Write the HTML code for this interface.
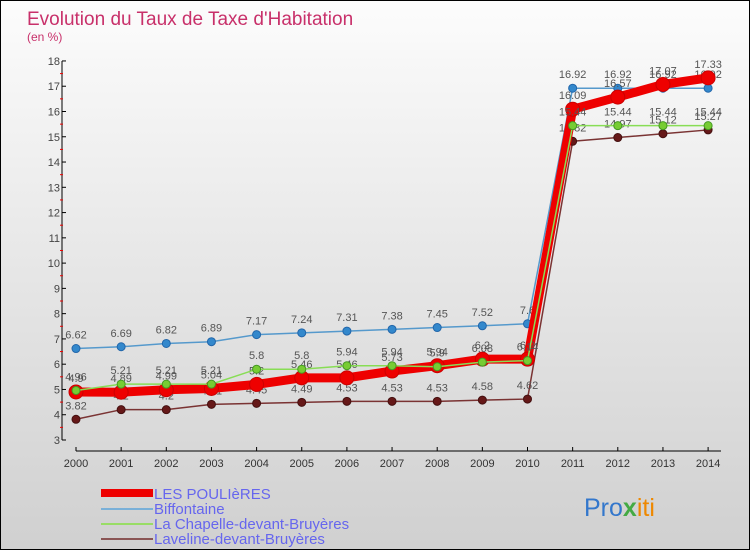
<!DOCTYPE html>
<html><head><meta charset="utf-8"><style>
body{margin:0;}
#wrap{width:748px;height:548px;border:1px solid #000;background:linear-gradient(#fcfcfc,#d0d0d0);position:relative;overflow:hidden;font-family:"Liberation Sans",sans-serif;}
svg text{font-family:"Liberation Sans",sans-serif;}
</style></head><body>
<div id="wrap">
<svg id="svg" width="748" height="548" xmlns="http://www.w3.org/2000/svg">
<text x="26" y="24" font-size="19" fill="#c8306a">Evolution du Taux de Taxe d'Habitation</text>
<text x="26" y="40" font-size="12" fill="#c8306a">(en %)</text>
<g id="axes"></g><g id="series"></g>
<g>
<rect x="100" y="488" width="52" height="8" fill="#e00"/>
<text x="153" y="498" font-size="15" fill="#6666ee">LES POULIèRES</text>
<line x1="100" x2="152" y1="508" y2="508" stroke="#7ab0d8" stroke-width="2"/>
<text x="153" y="513" font-size="15" fill="#6666ee">Biffontaine</text>
<line x1="100" x2="152" y1="523" y2="523" stroke="#99dd66" stroke-width="2"/>
<text x="153" y="528" font-size="15" fill="#6666ee">La Chapelle-devant-Bruyères</text>
<line x1="100" x2="152" y1="538" y2="538" stroke="#8a5555" stroke-width="2"/>
<text x="153" y="543" font-size="15" fill="#6666ee">Laveline-devant-Bruyères</text>
</g>
<text x="583" y="515" font-size="25"><tspan fill="#3377cc">Pro</tspan><tspan fill="#44aa44" font-weight="bold">x</tspan><tspan fill="#ee8800">iti</tspan></text>
</svg></div>
<script>
const years=[2000,2001,2002,2003,2004,2005,2006,2007,2008,2009,2010,2011,2012,2013,2014];
const yTicks=[3,4,5,6,7,8,9,10,11,12,13,14,15,16,17,18];
const poulieres=[4.9,4.89,4.99,5.04,5.2,5.46,5.46,5.73,5.94,6.2,6.2,16.09,16.57,17.07,17.33];
const biffontaine=[6.62,6.69,6.82,6.89,7.17,7.24,7.31,7.38,7.45,7.52,7.6,16.92,16.92,16.92,16.92];
const chapelle=[4.96,5.21,5.21,5.21,5.8,5.8,5.94,5.94,5.9,6.08,6.14,15.44,15.44,15.44,15.44];
const laveline=[3.82,4.2,4.2,4.41,4.45,4.49,4.53,4.53,4.53,4.58,4.62,14.82,14.97,15.12,15.27];
const NS="http://www.w3.org/2000/svg";
const X=i=>75+i*45.15, Y=v=>439-(v-3)*25.27;
function mk(t,a,p){const e=document.createElementNS(NS,t);for(const k in a)e.setAttribute(k,a[k]);p.appendChild(e);return e;}
const ax=document.getElementById('axes'),sg=document.getElementById('series');
const yl=mk('line',{x1:61,x2:61,y1:60,y2:439,stroke:'#000'},ax);


const xl=mk('line',{x1:75,x2:720,y1:450,y2:450,stroke:'#000'},ax);


yTicks.forEach(v=>{mk('line',{x1:61,x2:65,y1:Y(v),y2:Y(v),stroke:'#000'},ax);
 if(v<18)mk('line',{x1:59,x2:62,y1:Y(v+0.5),y2:Y(v+0.5),stroke:'#e00'},ax);
 const t=mk('text',{x:59,y:Y(v)+4,'font-size':11,fill:'#444','text-anchor':'end'},ax);t.textContent=v;
 
 });
years.forEach((y,i)=>{mk('line',{x1:X(i),x2:X(i),y1:446,y2:450,stroke:'#000'},ax);
 const t=mk('text',{x:X(i),y:466,'font-size':11,fill:'#333','text-anchor':'middle'},ax);t.textContent=y;
 
 });
function series(data,name,col,w,dot,dcol,r){
 const g=mk('g',{},sg);
 
 
 mk('polyline',{points:data.map((v,i)=>X(i)+','+Y(v)).join(' '),fill:'none',stroke:col,'stroke-width':w,'stroke-linejoin':'round'},g);
 data.forEach((v,i)=>{const c=mk('circle',{cx:X(i),cy:Y(v),r:r,fill:dot,stroke:dcol,'stroke-width':1},g);
  
  
  const t=mk('text',{x:X(i),y:Y(v)-10,'font-size':11,fill:'#555','text-anchor':'middle'},g);t.textContent=v;});
}
series(laveline,'laveline','#7a3333',1.5,'#661818','#441010',4);
series(biffontaine,'biffontaine','#5599cc',1.5,'#3388cc','#2266aa',4);
series(poulieres,'les-poulieres','#ee0000',9,'#ee0000','#cc0000',7);
series(chapelle,'la-chapelle','#88dd55',1.5,'#77cc33','#449922',4);
</script>
</body></html>
